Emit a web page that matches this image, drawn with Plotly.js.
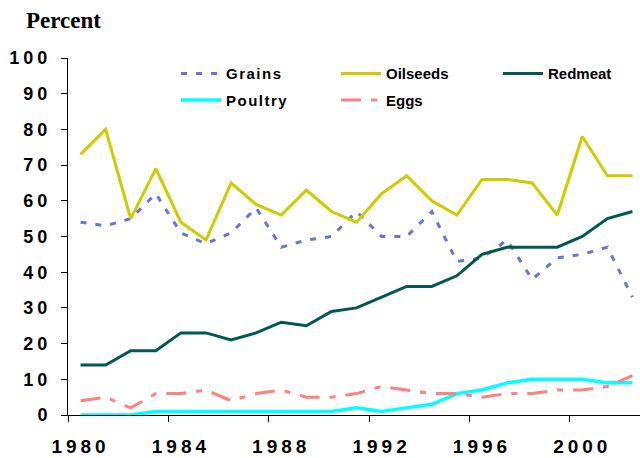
<!DOCTYPE html>
<html>
<head>
<meta charset="utf-8">
<script src="https://cdn.plot.ly/plotly-3.0.1.min.js"></script>
<style>
html,body{margin:0;padding:0;background:#fff;}
#chart{width:640px;height:458px;}
.xtick text,.ytick text,.x2tick text{letter-spacing:4px;}
.legendtext{letter-spacing:1.5px;}
</style>
</head>
<body>
<div id="chart"></div>
<script>
const years = [1980,1981,1982,1983,1984,1985,1986,1987,1988,1989,1990,1991,1992,1993,1994,1995,1996,1997,1998,1999,2000,2001,2002];
const grains   = [54,53,55,62,51,48,51,58,47,49,50,57,50,50,57,43,44,49,38,44,45,47,33];
const oilseeds = [73,80,55,69,54,49,65,59,56,63,57,54,62,67,60,56,66,66,65,56,78,67,67];
const redmeat  = [14,14,18,18,23,23,21,23,26,25,29,30,33,36,36,39,45,47,47,47,50,55,57];
const poultry  = [0,0,0,1,1,1,0.8,1,0.8,1,1,2,1,2,3,6,7,9,10,10,10,9,9];
const eggs     = [4,5,2,6,6,7,4,6,7,5,5,6,8,7,6,6,5,6,6,7,7,8,11];
const xTickLabels = ['1980','1984','1988','1992','1996','2000'];
const xTickYears = [1980,1984,1988,1992,1996,2000];
const xTickMarks = [1979.5,1983.5,1987.5,1991.5,1995.5,1999.5];
const yTicks = [0,10,20,30,40,50,60,70,80,90,100];

const lf = {family:'Liberation Sans, Arial, sans-serif', size:15, color:'#000', weight:'bold'};
function tr(name, y, color, dash, width, legend){
  return {x:years, y:y, name:name, type:'scatter', mode:'lines', legendgroup:name,
    line:{color:color, width:width, dash:dash}, legend:legend, xaxis:'x', yaxis:'y'};
}
const data = [
  tr('Grains', grains, '#6872DE', '6px,9px', 3, 'legend'),
  tr('Poultry', poultry, '#00FFFF', 'solid', 3.5, 'legend'),
  tr('Oilseeds', oilseeds, '#CCCC00', 'solid', 3, 'legend2'),
  tr('Eggs', eggs, '#FF8080', '20px,10px,6px,10px', 3, 'legend2'),
  tr('Redmeat', redmeat, '#00594F', 'solid', 3, 'legend3'),
  {x:[xTickYears[0]], y:[null], xaxis:'x2', yaxis:'y', showlegend:false, type:'scatter', mode:'lines', hoverinfo:'skip'}
];
const W = 572;
function leg(px){
  return {xref:'paper', yref:'paper', x:(px-68)/W, y:1.002, xanchor:'left', yanchor:'top',
    orientation:'v', bgcolor:'rgba(0,0,0,0)', font:lf, itemwidth:40, tracegroupgap:4, traceorder:'grouped'};
}
const layout = {
  width:640, height:458,
  margin:{l:68, r:0, t:58, b:43, autoexpand:false},
  paper_bgcolor:'#fff', plot_bgcolor:'#fff',
  title:{text:'Percent', font:{family:'Liberation Serif, Times New Roman, serif', size:23, color:'#000', weight:'bold'},
    xref:'container', yref:'container', x:26/640, xanchor:'left', y:1-20/458, yanchor:'middle'},
  xaxis:{range:[1979.5,2002.3], tickvals:xTickMarks, ticktext:xTickMarks.map(()=>''), ticks:'outside', ticklen:6,
    tickcolor:'#000', showline:true, linecolor:'#000', linewidth:1, showgrid:false, zeroline:false, fixedrange:true},
  xaxis2:{overlaying:'x', anchor:'y', side:'bottom', range:[1979.5,2002.3], tickvals:xTickYears, ticktext:xTickLabels,
    ticks:'', showline:false, showgrid:false, zeroline:false, ticklabelstandoff:18,
    tickfont:{family:'Liberation Sans, Arial, sans-serif', size:19, color:'#000', weight:'bold'}},
  yaxis:{range:[0,100], tickvals:yTicks, ticks:'outside', ticklen:6, tickcolor:'#000', showline:true, linecolor:'#000',
    linewidth:1, showgrid:false, zeroline:false, ticklabelstandoff:6,
    tickfont:{family:'Liberation Sans, Arial, sans-serif', size:18, color:'#000', weight:'bold'}},
  legend:leg(176),
  legend2:leg(336),
  legend3:leg(498),
  showlegend:true
};
Plotly.newPlot('chart', data, layout, {staticPlot:true});
</script>
</body>
</html>
